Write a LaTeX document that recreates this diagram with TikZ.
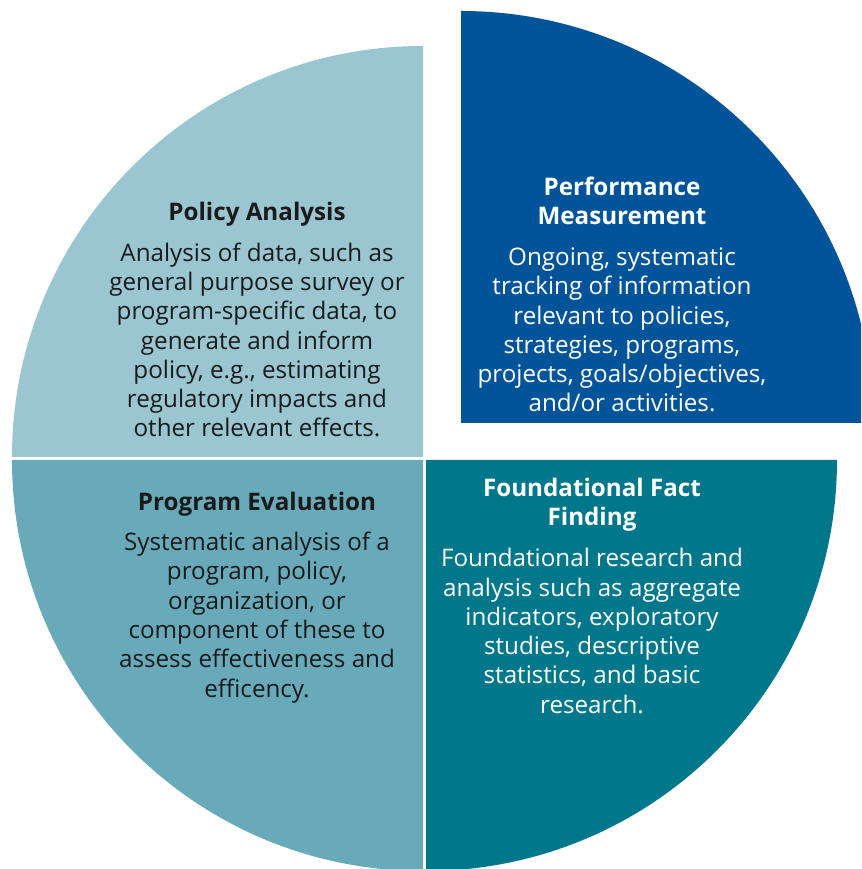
\documentclass[tikz,border=0pt]{standalone}
\usepackage{fontspec}
\setmainfont{Open Sans}
\definecolor{qtl}{HTML}{9AC6D1}
\definecolor{qbl}{HTML}{68AABA}
\definecolor{qbr}{HTML}{00778A}
\definecolor{qtr}{HTML}{02549A}
\definecolor{ink}{HTML}{1A1A1A}
\tikzset{
  quad/.style={draw=none},
  ttl/.style={inner sep=0pt, align=center, font=\fontsize{24.2}{29.3}\selectfont\bfseries},
  body/.style={inner sep=0pt, align=center, font=\fontsize{24.2}{29.3}\selectfont},
}
\begin{document}
\begin{tikzpicture}[x=1pt,y=1pt]
\useasboundingbox (0,0) rectangle (861,869);
\clip (0,0) rectangle (861,869);
% quadrants
\fill[qtl] (423,412) -- (12,412) arc[start angle=180, end angle=90, radius=411pt] -- cycle;
\fill[qbl] (423,409) -- (423,-2) arc[start angle=270, end angle=180, radius=411pt] -- cycle;
\fill[qbr] (426,409) -- (837,409) arc[start angle=0, end angle=-90, radius=411pt] -- cycle;
\fill[qtr] (461,446) -- (461,858) arc[start angle=90, end angle=0, radius=412pt] -- cycle;
% texts
\node[ttl, text=ink] (pat) at (257,869-214) {Policy Analysis};
\node[body, text=ink] (pab) at (257,869-340) {Analysis of data, such as\\general purpose survey or\\program-specific data, to\\generate and inform\\policy, e.g., estimating\\regulatory impacts and\\other relevant effects.};
\node[ttl, text=white] (pmt) at (622,869-201) {Performance\\Measurement};
\node[body, text=white] (pmb) at (622,869-330) {Ongoing, systematic\\tracking of information\\relevant to policies,\\strategies, programs,\\projects, goals/objectives,\\and/or activities.};
\node[ttl, text=ink] (pet) at (257,869-504) {Program Evaluation};
\node[body, text=ink] (peb) at (257,869-617.5) {Systematic analysis of a\\program, policy,\\organization, or\\component of these to\\assess effectiveness and\\efficency.};
\node[ttl, text=white] (fft) at (592,869-504.5) {Foundational Fact\\Finding};
\node[body, text=white] (ffb) at (592,869-631) {Foundational research and\\analysis such as aggregate\\indicators, exploratory\\studies, descriptive\\statistics, and basic\\research.};
\end{tikzpicture}
\end{document}
